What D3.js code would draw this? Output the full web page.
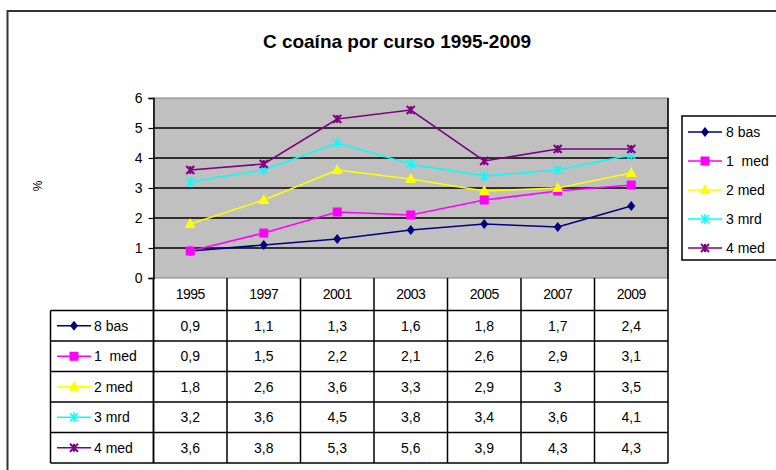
<!DOCTYPE html>
<html><head><meta charset="utf-8">
<script src="https://cdn.jsdelivr.net/npm/d3@7"></script>
<style>body{margin:0;background:#fff;} svg{display:block;} text{white-space:pre;}</style>
</head><body>
<svg id="c" width="776" height="470"></svg>
<script>
const title = "C coaína por curso 1995-2009";
const years = ["1995","1997","2001","2003","2005","2007","2009"];
const seriesNames = ["8 bas","1  med","2 med","3 mrd","4 med"];
const tableNames = ["8 bas","1  med","2 med","3 mrd","4 med"];
const bas8 = [0.9,1.1,1.3,1.6,1.8,1.7,2.4];
const med1 = [0.9,1.5,2.2,2.1,2.6,2.9,3.1];
const med2 = [1.8,2.6,3.6,3.3,2.9,3.0,3.5];
const mrd3 = [3.2,3.6,4.5,3.8,3.4,3.6,4.1];
const med4 = [3.6,3.8,5.3,5.6,3.9,4.3,4.3];
const colors = ["#000080","#FF00FF","#FFFF00","#00FFFF","#800080"];
const shapes = ["diamond","square","triangle","star","cross"];
const yTicks = [0,1,2,3,4,5,6];

const series = [bas8,med1,med2,mrd3,med4].map((v,i)=>({name:seriesNames[i], values:v, color:colors[i], shape:shapes[i]}));

const svg = d3.select("#c");
const FONT = "'Liberation Sans', Arial, sans-serif";
const NARROW = "'Liberation Sans Narrow', 'Liberation Sans', Arial, sans-serif";

// outer frame
svg.append("rect").attr("x",7.5).attr("y",11).attr("width",790).attr("height",480)
  .attr("fill","#fff").attr("stroke","#333").attr("stroke-width",2);

svg.append("text").attr("x",397).attr("y",48).attr("text-anchor","middle")
  .attr("font-family",NARROW).attr("font-weight","bold").attr("font-size",19)
  .text(title);

const L=153.5, R=668, T=98, B=278;
const x = d3.scaleBand().domain(years).range([L,R]);
const y = d3.scaleLinear().domain([0,6]).range([B,T]);

svg.append("rect").attr("x",L).attr("y",T).attr("width",R-L).attr("height",B-T)
  .attr("fill","#C0C0C0").attr("stroke","#808080").attr("stroke-width",1);

svg.append("g").selectAll("line").data(yTicks.filter(d=>d>0&&d<6)).join("line")
  .attr("x1",L).attr("x2",R).attr("y1",d=>y(d)).attr("y2",d=>y(d))
  .attr("stroke","#000").attr("stroke-width",1.5);

const yAxis = svg.append("g").attr("transform",`translate(${L},0)`)
  .call(d3.axisLeft(y).tickValues(yTicks).tickSize(5).tickPadding(6).tickFormat(d3.format("d")));
yAxis.select(".domain").attr("stroke","#000").attr("stroke-width",1.5);
yAxis.selectAll("line").attr("stroke","#000").attr("stroke-width",1.2);
yAxis.selectAll("text").attr("font-family",FONT).attr("font-size",14).attr("fill","#000");

svg.append("text").attr("transform","translate(42,186) rotate(-90)")
  .attr("text-anchor","middle").attr("font-family",FONT).attr("font-size",12).text("%");

function marker(g, shape, color, cx, cy){
  const s=4;
  if(shape==="diamond") g.append("path").attr("d",`M${cx},${cy-s-1}L${cx+s},${cy}L${cx},${cy+s+1}L${cx-s},${cy}Z`).attr("fill",color);
  else if(shape==="square") g.append("rect").attr("x",cx-4.5).attr("y",cy-4.5).attr("width",9).attr("height",9).attr("fill",color);
  else if(shape==="triangle") g.append("path").attr("d",`M${cx},${cy-6}L${cx+5.5},${cy+4}L${cx-5.5},${cy+4}Z`).attr("fill",color);
  else if(shape==="star") g.append("path").attr("d",`M${cx-4},${cy-4}L${cx+4},${cy+4}M${cx-4},${cy+4}L${cx+4},${cy-4}M${cx},${cy-5}L${cx},${cy+5}`).attr("stroke",color).attr("stroke-width",1.5).attr("fill","none");
  else g.append("path").attr("d",`M${cx-4},${cy-4}L${cx+4},${cy+4}M${cx-4},${cy+4}L${cx+4},${cy-4}M${cx},${cy-4}L${cx},${cy+4}`).attr("stroke",color).attr("stroke-width",2).attr("fill","none");
}

const line = d3.line().x((d,i)=>x(years[i])+x.bandwidth()/2).y(d=>y(d));
series.forEach(s=>{
  const g = svg.append("g");
  g.append("path").datum(s.values).attr("d",line).attr("fill","none").attr("stroke",s.color).attr("stroke-width",1.6);
  s.values.forEach((v,i)=>marker(g,s.shape,s.color,x(years[i])+x.bandwidth()/2,y(v)));
});

// data table
const headerB = 310.5;
const rowY = d3.scaleBand().domain(d3.range(5)).range([headerB,463]);
const tg = svg.append("g").attr("stroke","#000").attr("stroke-width",1.5).attr("fill","none");
tg.append("line").attr("x1",L).attr("x2",R).attr("y1",headerB).attr("y2",headerB);
years.forEach(yr=>{
  tg.append("line").attr("x1",x(yr)).attr("x2",x(yr)).attr("y1",B).attr("y2",463);
});
tg.append("line").attr("x1",R).attr("x2",R).attr("y1",T).attr("y2",463);
tg.append("line").attr("x1",L).attr("x2",L).attr("y1",B).attr("y2",463);
const keyL = 50.5;
d3.range(5).forEach(i=>{
  tg.append("line").attr("x1",keyL).attr("x2",R).attr("y1",rowY(i)+rowY.bandwidth()).attr("y2",rowY(i)+rowY.bandwidth());
});
tg.append("line").attr("x1",keyL).attr("x2",L).attr("y1",headerB).attr("y2",headerB);
tg.append("line").attr("x1",keyL).attr("x2",keyL).attr("y1",headerB).attr("y2",463);

svg.append("g").selectAll("text").data(years).join("text")
  .attr("x",d=>x(d)+x.bandwidth()/2).attr("y",B+21).attr("text-anchor","middle")
  .attr("font-family",NARROW).attr("font-size",14).attr("letter-spacing",-0.5).text(d=>d);

series.forEach((s,i)=>{
  const cy = rowY(i)+rowY.bandwidth()/2;
  const g = svg.append("g");
  g.append("line").attr("x1",57).attr("x2",91).attr("y1",cy).attr("y2",cy).attr("stroke",s.color).attr("stroke-width",1.6);
  marker(g,s.shape,s.color,74,cy);
  g.append("text").attr("x",94).attr("y",cy+5).attr("font-family",FONT).attr("font-size",14).text(tableNames[i]);
  s.values.forEach((v,j)=>{
    g.append("text").attr("x",x(years[j])+x.bandwidth()/2).attr("y",cy+5).attr("text-anchor","middle")
      .attr("font-family",FONT).attr("font-size",14).text(String(v).replace(".",","));
  });
});

// legend
svg.append("rect").attr("x",682).attr("y",116).attr("width",110).attr("height",144)
  .attr("fill","#fff").attr("stroke","#000").attr("stroke-width",1.5);
series.forEach((s,i)=>{
  const cy = 132 + i*29;
  const g = svg.append("g");
  g.append("line").attr("x1",688).attr("x2",722).attr("y1",cy).attr("y2",cy).attr("stroke",s.color).attr("stroke-width",1.6);
  marker(g,s.shape,s.color,705,cy);
  g.append("text").attr("x",726).attr("y",cy+5).attr("font-family",FONT).attr("font-size",14).text(s.name);
});
</script>
</body></html>
